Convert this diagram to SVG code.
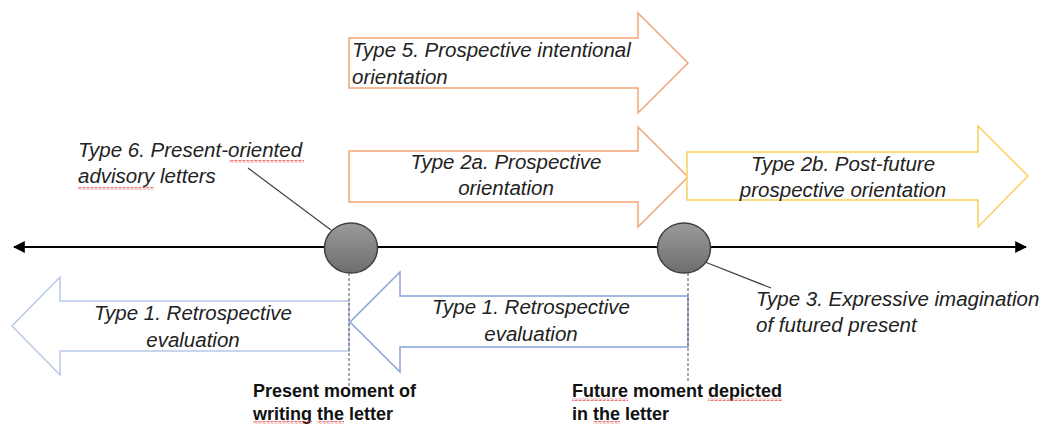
<svg xmlns="http://www.w3.org/2000/svg" width="1041" height="425" viewBox="0 0 1041 425">
  <defs>
    <marker id="axisHead" viewBox="0 0 10 10" refX="9" refY="5" markerWidth="6" markerHeight="6" orient="auto-start-reverse" markerUnits="strokeWidth">
      <path d="M0,0 L10,5 L0,10 Z" fill="#000"/>
    </marker>
    <linearGradient id="ballFill" x1="0" y1="0" x2="0" y2="1">
      <stop offset="0" stop-color="#9a9a9a"/>
      <stop offset="1" stop-color="#6e6e6e"/>
    </linearGradient>
    <pattern id="squiggle" width="4" height="3" patternUnits="userSpaceOnUse">
      <path d="M0,2.5 L1,0.5 L3,2.5 L4,0.5" fill="none" stroke="#e05050" stroke-width="0.8"/>
    </pattern>
    <style>
      .lbl { font-family: "Liberation Sans", Arial, sans-serif; font-size: 20.5px; font-style: italic; fill: #222; }
      .mid { text-anchor: middle; }
      .moment { font-family: "Liberation Sans", Arial, sans-serif; font-size: 18px; font-weight: bold; fill: #111; }
      .orange { fill: #fff; stroke: #f3a478; stroke-width: 1.5; }
      .yellow { fill: #fff; stroke: #f7cf5a; stroke-width: 1.5; }
      .blueLight { fill: #fff; stroke: #b8c8e8; stroke-width: 1.5; }
      .blueMid { fill: #fff; stroke: #8aa2d6; stroke-width: 1.5; }
      .ball { fill: url(#ballFill); stroke: #3f3f3f; stroke-width: 1.5; }
      .leader { stroke: #404040; stroke-width: 1.2; fill: none; }
      .marker-line { stroke: #555; stroke-width: 1; stroke-dasharray: 3 2; fill: none; }
      .spell { fill: url(#squiggle); }
    </style>
  </defs>

  <!-- forward-looking block arrows -->
  <g id="type5">
    <path class="orange" d="M349,38 H638 V13 L688,63 L638,113 V88 H349 Z"/>
    <text class="lbl" x="352" y="57">Type 5. Prospective intentional</text>
    <text class="lbl" x="352" y="84">orientation</text>
  </g>

  <g id="type2a">
    <path class="orange" d="M349,151 H638 V127 L688,177 L638,227 V202 H349 Z"/>
    <text class="lbl mid" x="506" y="169">Type 2a. Prospective</text>
    <text class="lbl mid" x="506" y="195">orientation</text>
  </g>

  <g id="type2b">
    <path class="yellow" d="M687,152 H978 V126 L1028,176 L978,227 V200 H687 Z"/>
    <text class="lbl mid" x="843" y="171">Type 2b. Post-future</text>
    <text class="lbl mid" x="843" y="197">prospective orientation</text>
  </g>

  <!-- backward-looking block arrows -->
  <g id="type1-past">
    <path class="blueLight" d="M349,301 H60 V277 L12,326 L60,375 V351 H349 Z"/>
    <text class="lbl mid" x="193" y="320">Type 1. Retrospective</text>
    <text class="lbl mid" x="193" y="347">evaluation</text>
  </g>

  <g id="type1-future">
    <path class="blueMid" d="M688,296 H400 V272 L350,322 L400,372 V347 H688 Z"/>
    <text class="lbl mid" x="531" y="314">Type 1. Retrospective</text>
    <text class="lbl mid" x="531" y="341">evaluation</text>
  </g>

  <!-- connectors: time axis, moment markers and leaders -->
  <g id="connectors">
    <line x1="14" y1="247" x2="1026" y2="247" stroke="#000" stroke-width="2" marker-start="url(#axisHead)" marker-end="url(#axisHead)"/>
    <line class="marker-line" x1="349" y1="273" x2="349" y2="388"/>
    <line class="marker-line" x1="688" y1="273" x2="688" y2="382"/>
    <line class="leader" x1="248" y1="168" x2="331" y2="230"/>
    <line class="leader" x1="705" y1="262" x2="771" y2="288"/>
  </g>

  <g id="present-moment">
    <ellipse class="ball" cx="351" cy="248" rx="26.5" ry="25"/>
  </g>

  <g id="future-moment">
    <ellipse class="ball" cx="684" cy="248" rx="26.5" ry="25"/>
  </g>

  <g id="type6">
    <text class="lbl" x="78" y="157">Type 6. Present-oriented</text>
    <text class="lbl" x="78" y="183">advisory letters</text>
    <rect class="spell" x="229" y="160" width="75" height="3"/>
    <rect class="spell" x="78" y="187" width="76" height="3"/>
  </g>

  <g id="type3">
    <text class="lbl" x="756" y="306">Type 3. Expressive imagination</text>
    <text class="lbl" x="756" y="332">of futured present</text>
  </g>

  <g id="present-label">
    <text class="moment" x="253" y="397">Present moment of</text>
    <text class="moment" x="253" y="420">writing the letter</text>
    <rect class="spell" x="253" y="421" width="59" height="3"/>
    <rect class="spell" x="317" y="421" width="27" height="3"/>
  </g>

  <g id="future-label">
    <text class="moment" x="572" y="397">Future moment depicted</text>
    <text class="moment" x="572" y="420">in the letter</text>
    <rect class="spell" x="572" y="398" width="56" height="3"/>
    <rect class="spell" x="708" y="398" width="74" height="3"/>
    <rect class="spell" x="593" y="421" width="27" height="3"/>
  </g>
</svg>
